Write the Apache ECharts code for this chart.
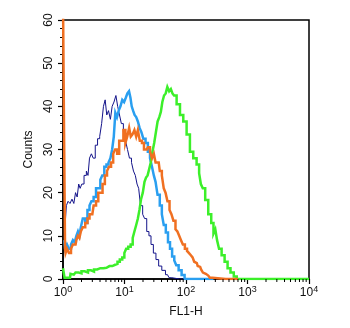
<!DOCTYPE html>
<html>
<head>
<meta charset="utf-8">
<script src="https://cdn.jsdelivr.net/npm/echarts@6/dist/echarts.min.js"></script>
<style>
  html, body { margin: 0; padding: 0; background: #fff; }
  #chart { width: 350px; height: 328px; }
</style>
</head>
<body>
<div id="chart"></div>
<script>
// Axis ranges and tick labels
const xDecades = [1, 10, 100, 1000, 10000];
const yTickValues = [0, 10, 20, 30, 40, 50, 60];
const xTitle = 'FL1-H';
const yTitle = 'Counts';

// Histogram traces: [FL1-H, counts]
const blankCells = [
  [1.10, 14], [1.17, 17], [1.25, 18], [1.35, 17.5], [1.45, 18.5], [1.55, 17.5], [1.65, 20],
  [1.75, 19], [1.85, 22], [1.95, 21], [2.1, 22], [2.3, 24], [2.5, 25], [2.6, 24], [2.8, 28],
  [3.0, 29], [3.2, 28], [3.5, 31], [3.8, 32.5], [4.1, 33], [4.4, 36], [4.7, 40], [5.0, 41.5],
  [5.3, 38], [5.7, 39], [6.1, 37], [6.5, 40], [7.0, 41], [7.5, 42.5], [8.0, 40], [8.6, 38],
  [9.2, 36], [10, 34], [10.8, 32], [11.6, 30], [12.5, 28], [13.5, 27], [14.5, 25], [15.5, 24],
  [16.5, 22], [17.5, 21], [19, 17], [20.5, 15], [22, 14], [24, 11], [26, 10], [28, 8],
  [31, 6], [34, 4.5], [38, 3], [43, 2], [50, 1], [56, 0.3], [62, 0], [100, 0]
];

const isotypeControl = [
  [1.05, 9], [1.12, 7], [1.2, 8], [1.3, 7], [1.4, 8], [1.5, 9], [1.6, 8.5], [1.7, 10],
  [1.8, 11], [1.9, 10], [2.0, 12], [2.2, 14], [2.4, 13], [2.6, 16], [2.8, 17], [3.0, 18],
  [3.3, 19], [3.6, 21], [3.9, 21], [4.2, 23], [4.5, 24], [4.9, 26], [5.3, 26.5], [5.7, 27],
  [6.1, 28], [6.5, 30], [6.9, 33], [7.3, 38.5], [7.8, 37.5], [8.3, 39], [8.9, 40], [9.5, 41.5],
  [10.2, 41], [10.8, 42], [11.5, 43], [12.2, 43.5], [12.8, 42], [13.4, 40], [14.2, 39],
  [15, 38], [16, 37.5], [17, 36.5], [18.2, 35], [19.5, 34], [21, 32.5], [23, 31.5],
  [25, 29.5], [27, 28], [29, 26], [31, 24], [33, 22.5], [36, 19.5], [39, 17], [42, 15],
  [45, 12.5], [49, 10.8], [53, 8.5], [57, 7], [62, 5.2], [67, 4.3], [72, 3.2], [80, 2],
  [90, 0.9], [100, 0], [280, 0]
];

const secondaryOnly = [
  [1.0, 65], [1.04, 65], [1.04, 34], [1.08, 34], [1.08, 7], [1.12, 6], [1.2, 7], [1.3, 6],
  [1.4, 7], [1.5, 8], [1.6, 8], [1.7, 9], [1.8, 10], [1.9, 9.5], [2.0, 11], [2.2, 12],
  [2.4, 13], [2.6, 14], [2.8, 15], [3.0, 15], [3.3, 17], [3.6, 18], [3.9, 20], [4.2, 20],
  [4.6, 22], [5.0, 24], [5.4, 25], [5.8, 26], [6.3, 27], [6.8, 29], [7.3, 30], [7.9, 29],
  [8.5, 32], [9.2, 32], [10, 34.5], [10.7, 31.5], [11.5, 33], [12.3, 35], [13, 33],
  [14, 33.5], [15, 34.5], [16, 33], [17, 34.5], [18.5, 32], [20, 31.5], [21.5, 30],
  [23, 30], [25, 30.5], [27, 29.5], [29, 28], [31, 29], [33, 27], [36, 27], [39, 25],
  [42, 24], [45, 21], [48, 20], [52, 18], [56, 16], [60, 15], [65, 13.5], [70, 11.5],
  [75, 11], [80, 10], [86, 9], [92, 8], [100, 7], [108, 6.5], [116, 6], [124, 5.5],
  [132, 5], [140, 4], [150, 3.7], [160, 3], [170, 2.8], [182, 2.2], [195, 1.5], [210, 1.2],
  [230, 0.8], [260, 0.3], [280, 0], [700, 0]
];

const antibodyStained = [
  [1.0, 2.5], [1.05, 2.5], [1.07, 0.3], [1.3, 0.3], [1.35, 1.2], [1.5, 1], [1.7, 1.5],
  [1.9, 1.3], [2.1, 1.8], [2.4, 1.5], [2.7, 2], [3.0, 1.7], [3.4, 2.2], [3.8, 2.5],
  [4.3, 2.5], [4.8, 2.6], [5.4, 3], [6.0, 3], [6.7, 3.3], [7.4, 3.5], [8.0, 4], [8.8, 4.5],
  [9.6, 5], [10.3, 6], [11, 7], [12, 7.5], [13.2, 8], [14, 9.5], [15, 11], [16, 12.5],
  [17, 14], [18, 16], [19.2, 18.5], [20.5, 20], [21.8, 22.5], [23, 23.5], [24.5, 24],
  [26, 25.5], [27.5, 27], [29.5, 29.5], [31.3, 31.5], [33.5, 34], [35.6, 36.5], [38, 37.5],
  [40, 38.7], [42.5, 41], [45.5, 42.5], [48, 43], [51.5, 44.5], [55, 43.5], [58.5, 44],
  [62, 43], [66, 42.5], [75, 40.5], [85, 38], [96, 36.5], [109, 33.5], [123, 29.5],
  [140, 28], [158, 26.5], [169, 24.5], [180, 22], [195, 21], [216, 18.3], [245, 15],
  [270, 13], [290, 10.5], [310, 11.5], [330, 9], [360, 7], [400, 5.5], [450, 4],
  [500, 2.5], [560, 1.5], [640, 0.6], [700, 0], [10000, 0]
];

// Minor tick positions on the log axis (2..9 in every decade)
const minorTickValues = [];
for (let i = 0; i < xDecades.length - 1; i++) {
  for (let k = 2; k <= 9; k++) minorTickValues.push([xDecades[i] * k]);
}

const baseFont = 'Liberation Sans, Arial, Helvetica, sans-serif';

function traceSeries(name, data, color, width, z) {
  return {
    name: name,
    type: 'line',
    data: data,
    step: 'middle',
    showSymbol: false,
    symbol: 'none',
    z: z,
    lineStyle: { color: color, width: width, join: 'miter' },
    animation: false
  };
}

const chart = echarts.init(document.getElementById('chart'), null, { renderer: 'canvas' });

chart.setOption({
  backgroundColor: '#ffffff',
  animation: false,
  grid: {
    left: 63, top: 20, right: 41, bottom: 49,
    show: true, borderColor: '#000', borderWidth: 1.5, backgroundColor: 'transparent'
  },
  xAxis: {
    type: 'log',
    logBase: 10,
    min: 1,
    max: 10000,
    name: xTitle,
    nameLocation: 'middle',
    nameGap: 27,
    nameTextStyle: { fontFamily: baseFont, fontSize: 12, color: '#111' },
    axisLine: { show: true, lineStyle: { color: '#000', width: 1.5 } },
    axisTick: { show: true, inside: false, length: 5, lineStyle: { color: '#000', width: 1.2 } },
    splitLine: { show: false },
    axisLabel: {
      margin: 6,
      formatter: function (v) {
        return '{b|10}{s|' + Math.round(Math.log10(v)) + '}';
      },
      rich: {
        b: { fontFamily: baseFont, fontSize: 12, color: '#111', lineHeight: 14, verticalAlign: 'bottom' },
        s: { fontFamily: baseFont, fontSize: 9, color: '#111', lineHeight: 14, verticalAlign: 'top', padding: [0, 0, 6, 0] }
      }
    }
  },
  yAxis: {
    type: 'value',
    min: 0,
    max: 60,
    interval: 10,
    name: yTitle,
    nameLocation: 'middle',
    nameGap: 22,
    nameRotate: 90,
    nameTextStyle: { fontFamily: baseFont, fontSize: 12, color: '#111' },
    axisLine: { show: true, lineStyle: { color: '#000', width: 1.5 } },
    axisTick: { show: true, inside: false, length: 5, lineStyle: { color: '#000', width: 1.2 } },
    minorTick: { show: true, splitNumber: 5, length: 3, lineStyle: { color: '#000', width: 1 } },
    splitLine: { show: false },
    axisLabel: {
      rotate: 90,
      margin: 8,
      fontFamily: baseFont,
      fontSize: 12,
      color: '#111',
      customValues: yTickValues
    }
  },
  series: [
    traceSeries('Blank', blankCells, '#14148a', 1, 2),
    traceSeries('Isotype', isotypeControl, '#2a9ff0', 2.5, 3),
    traceSeries('Antibody', antibodyStained, '#3cef2a', 2.5, 4),
    traceSeries('Secondary', secondaryOnly, '#f07022', 2.5, 5),
    {
      type: 'custom',
      data: minorTickValues,
      clip: false,
      silent: true,
      z: 10,
      encode: { x: 0 },
      renderItem: function (params, api) {
        const p = api.coord([api.value(0), 0]);
        return {
          type: 'line',
          shape: { x1: p[0], y1: p[1], x2: p[0], y2: p[1] + 3 },
          style: { stroke: '#000', lineWidth: 1 }
        };
      }
    }
  ]
});
</script>
</body>
</html>
